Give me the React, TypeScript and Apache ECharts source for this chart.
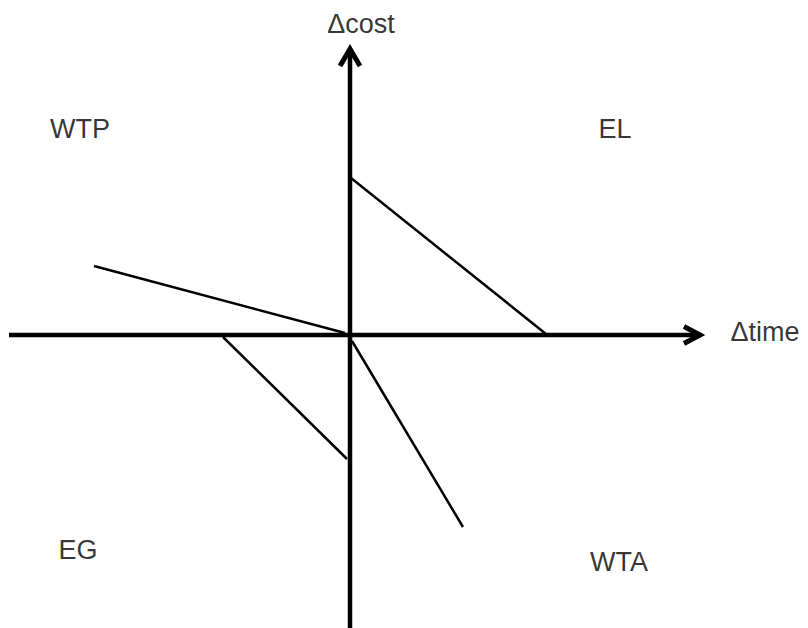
import React, { useEffect, useRef } from "react";
import * as echarts from "echarts";

// Diagram coordinates (origin at the crossing of the two axes)
const timeAxis: number[][] = [[-34.1, 0], [34.8, 0]];
const costAxis: number[][] = [[0, -29.4], [0, 28.6]];
const timeArrow: number[][] = [[33.4, 0.85], [35.0, 0], [33.4, -0.85]];
const costArrow: number[][] = [[-1.0, 26.9], [0, 28.6], [1.0, 26.9]];

const elLine: number[][] = [[0.1, 15.7], [19.6, 0.1]];
const wtpLine: number[][] = [[-25.6, 6.9], [-0.5, 0.2]];
const egLine: number[][] = [[-12.7, -0.2], [-0.3, -12.4]];
const wtaLine: number[][] = [[0.2, -0.6], [11.3, -19.2]];

const quadrantLabels = ["WTP", "EL", "EG", "WTA"];
const quadrantPositions: number[][] = [[-27.0, 20.6], [26.5, 20.6], [-27.2, -21.5], [26.9, -22.7]];
const axisLabels = ["\u0394cost", "\u0394time"];
const axisLabelPositions: number[][] = [[1.1, 31.1], [41.5, 0.3]];

export default function App() {
  const ref = useRef<HTMLDivElement>(null);
  useEffect(() => {
    if (!ref.current) return;
    const chart = echarts.init(ref.current, null, { renderer: "svg" });
    const seg = (data: number[][], width: number, join = "miter") => ({
      type: "line",
      data,
      symbol: "none",
      silent: true,
      lineStyle: { color: "#000", width, cap: "butt", join },
    });
    const font = "'Liberation Sans', Arial, sans-serif";
    const labelSeries = (names: string[], pos: number[][]) => ({
      type: "scatter",
      symbolSize: 0,
      silent: true,
      data: names.map((n, i) => ({ name: n, value: pos[i] })),
      label: {
        show: true,
        position: "inside",
        formatter: "{b}",
        color: "#000",
        fontSize: 27,
        fontFamily: font,
        align: "center",
        verticalAlign: "middle",
      },
    });
    chart.setOption({
      animation: false,
      backgroundColor: "#fff",
      grid: { left: 0, right: 0, top: 0, bottom: 0, containLabel: false },
      xAxis: { type: "value", min: -35, max: 45.8, show: false },
      yAxis: { type: "value", min: -29.3, max: 33.5, show: false },
      series: [
        seg(timeAxis, 4.5),
        seg(costAxis, 4.5),
        seg(timeArrow, 5),
        seg(costArrow, 5),
        seg(elLine, 2.5),
        seg(wtpLine, 2.5),
        seg(egLine, 2.5),
        seg(wtaLine, 2.5),
        labelSeries(quadrantLabels, quadrantPositions),
        labelSeries(axisLabels, axisLabelPositions),
      ],
    });
    return () => chart.dispose();
  }, []);
  return <div ref={ref} style={{ position: "absolute", left: 0, top: 0, width: 808, height: 628 }} />;
}
